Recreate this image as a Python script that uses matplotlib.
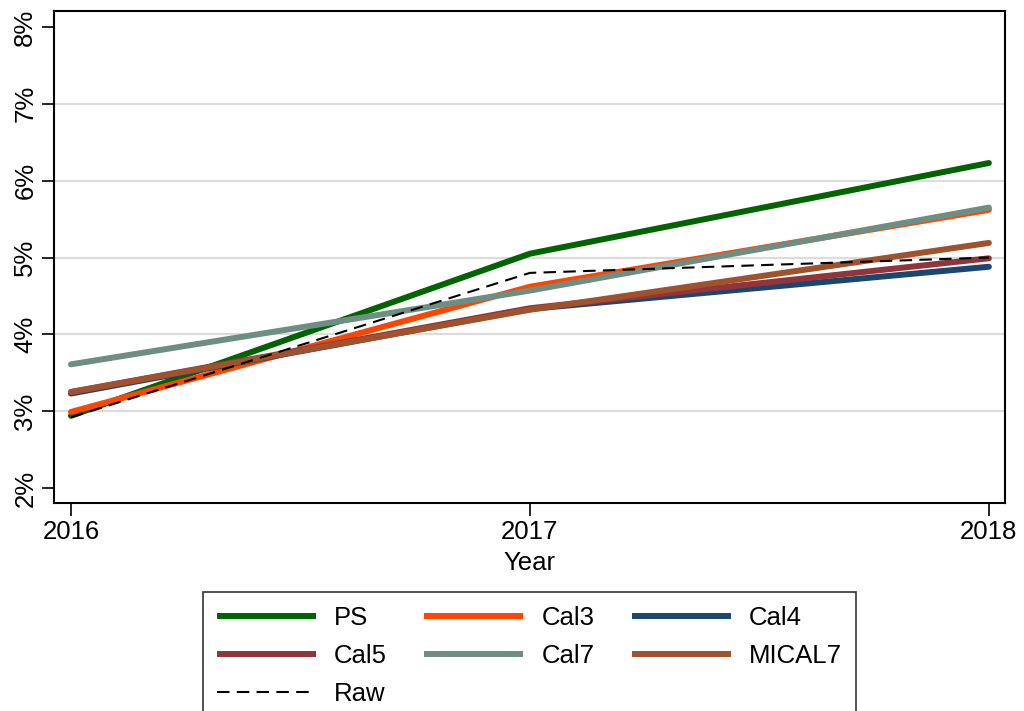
"""Calibrated rates by year, Stata-like line chart."""
import matplotlib

matplotlib.use("Agg")
import matplotlib.pyplot as plt

plt.rcParams["font.family"] = ["Liberation Sans", "DejaVu Sans"]

years = [2016, 2017, 2018]
ps = [2.94, 5.05, 6.23]
cal3 = [2.99, 4.62, 5.62]
cal4 = [3.23, 4.33, 4.88]
cal5 = [3.25, 4.34, 4.99]
cal7 = [3.61, 4.57, 5.65]
mical7 = [3.25, 4.32, 5.19]
raw = [2.92, 4.80, 5.00]
y_ticks = [2, 3, 4, 5, 6, 7, 8]

series = [
    ("PS", ps, "#006400"),
    ("Cal3", cal3, "#ff4500"),
    ("Cal4", cal4, "#1a476f"),
    ("Cal5", cal5, "#90353b"),
    ("Cal7", cal7, "#6e8e84"),
    ("MICAL7", mical7, "#a0522d"),
]

fig = plt.figure(figsize=(10.24, 7.11), dpi=100)
ax = fig.add_axes([0.0527, 0.2925, 0.9287, 0.692])

for g in y_ticks[1:-1]:
    ax.axhline(g, color="#dcdcdc", lw=1.6, zorder=0)

lines = {}
for name, vals, col in series:
    lines[name], = ax.plot(years, vals, color=col, lw=4.3, solid_capstyle="round")
lines["Raw"], = ax.plot(years, raw, color="black", lw=1.5, dashes=(6, 3.5))

ax.set_xlim(2015.963, 2018.035)
ax.set_ylim(1.805, 8.208)
ax.set_xticks(years)
ax.set_xticklabels([str(y) for y in years], fontsize=18.5)
ax.set_yticks(y_ticks)
ax.set_yticklabels([f"{t}%" for t in y_ticks], fontsize=18.5, rotation=90, va="center")
ax.tick_params(length=9, width=1.2, color="black", pad=3)
ax.set_xlabel("Year", fontsize=18.5, labelpad=5)
for s in ax.spines.values():
    s.set_linewidth(1.5)

# matplotlib fills legend columns first; this order reads row by row
order = ["PS", "Cal5", "Raw", "Cal3", "Cal7", "Cal4", "MICAL7"]
leg = fig.legend([lines[k] for k in order], order,
                 loc="upper center", bbox_to_anchor=(0.517, 0.1675), ncol=3,
                 fontsize=18.5, frameon=True, fancybox=False, edgecolor="black",
                 handlelength=3.85, handletextpad=0.7, columnspacing=1.45,
                 labelspacing=0.55, borderpad=0.55, borderaxespad=0)
leg.get_frame().set_linewidth(1.2)
for h in leg.get_lines():
    h.set_solid_capstyle("butt")

fig.savefig("out.png", dpi=100)
